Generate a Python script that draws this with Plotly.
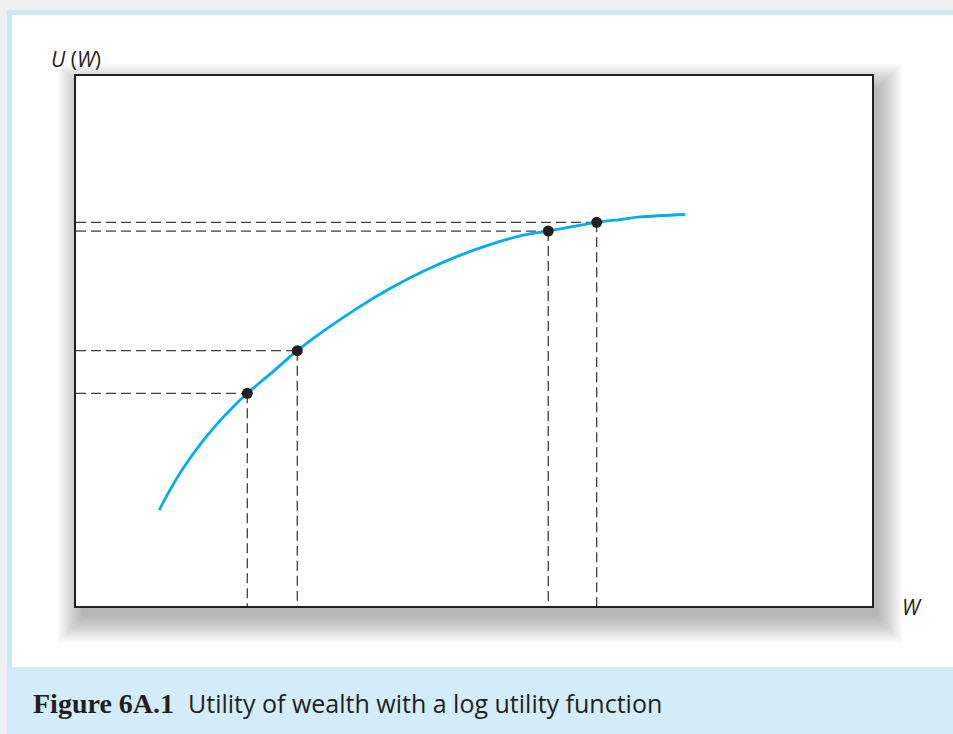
import plotly.graph_objects as go

# Utility curve U(W), read as (wealth, utility) pairs on a 0-100 scale
curve_w = [10.46, 11.81, 13.48, 15.58, 17.68, 19.76, 21.52, 24.79, 27.80, 31.07,
           35.26, 39.45, 43.63, 47.83, 52.01, 56.19, 59.33, 65.41, 68.34, 70.85, 76.51]
curve_u = [18.11, 21.92, 26.04, 30.45, 34.26, 37.60, 40.13, 44.28, 48.17, 51.85,
           56.11, 59.89, 63.15, 65.92, 68.19, 69.96, 70.75, 72.40, 72.92, 73.40, 73.87]

# Highlighted wealth levels and their utilities
point_w = [21.52, 27.80, 59.33, 65.41]
point_u = [40.13, 48.17, 70.75, 72.40]

y_label = "<i>U</i> (<i>W</i>)"
x_label = "<i>W</i>"
caption_num = "Figure 6A.1"
caption_text = "Utility of wealth with a log utility function"

W, H = 953, 734
BOX = (76, 76, 872, 606)  # left, top, right, bottom in pixels


def px(x):
    return x / W


def py(y):
    return 1 - y / H


fig = go.Figure()

# Dashed guide lines from each point to the axes
guide = dict(color="#3f3f3f", width=1.3, dash="10px,5px")
for w, u in zip(point_w, point_u):
    fig.add_trace(go.Scatter(x=[0, w], y=[u, u], mode="lines", line=guide,
                             hoverinfo="skip", showlegend=False))
    fig.add_trace(go.Scatter(x=[w, w], y=[u, 0], mode="lines", line=guide,
                             hoverinfo="skip", showlegend=False))

fig.add_trace(go.Scatter(x=curve_w, y=curve_u, mode="lines",
                         line=dict(color="#00aeef", width=2.8, shape="spline", smoothing=1.0),
                         hoverinfo="skip", showlegend=False))

fig.add_trace(go.Scatter(x=point_w, y=point_u, mode="markers",
                         marker=dict(color="#231f20", size=11),
                         hoverinfo="skip", showlegend=False))

shapes = []
# Page frame: light-blue border, white panel, caption band
shapes.append(dict(type="rect", xref="paper", yref="paper", layer="below",
                   x0=px(7), x1=1.01, y0=py(736), y1=py(10),
                   fillcolor="#c9e8f8", line=dict(width=0)))
shapes.append(dict(type="rect", xref="paper", yref="paper", layer="below",
                   x0=px(12), x1=1.01, y0=py(667), y1=py(15),
                   fillcolor="#ffffff", line=dict(width=0)))
shapes.append(dict(type="rect", xref="paper", yref="paper", layer="below",
                   x0=px(7), x1=1.01, y0=py(736), y1=py(667),
                   fillcolor="#d4ecf9", line=dict(width=0)))

# Soft drop shadow behind the plot box
l, t, r, b = BOX
dx, dy = 6, 12
for e in range(0, 26, 2):
    shapes.append(dict(type="rect", xref="paper", yref="paper", layer="below",
                       x0=px(l + dx - e), x1=px(r + dx + e),
                       y0=py(b + dy + e), y1=py(t + dy - e),
                       fillcolor="rgba(0,0,0,0.024)", line=dict(width=0)))
shapes.append(dict(type="rect", xref="paper", yref="paper", layer="below",
                   x0=px(l), x1=px(r), y0=py(b), y1=py(t),
                   fillcolor="#ffffff", line=dict(width=0)))

annotations = [
    dict(text=y_label, x=px(49), y=py(59), xref="paper", yref="paper",
         xanchor="left", yanchor="middle", showarrow=False,
         font=dict(family="Open Sans, sans-serif", size=21, color="#231f20")),
    dict(text=x_label, x=px(900), y=py(607), xref="paper", yref="paper",
         xanchor="left", yanchor="middle", showarrow=False,
         font=dict(family="Open Sans, sans-serif", size=21, color="#231f20")),
    dict(text="<b>" + caption_num + "</b>", x=px(31), y=py(703), xref="paper", yref="paper",
         xanchor="left", yanchor="middle", showarrow=False,
         font=dict(family="Liberation Serif, serif", size=28, color="#231f20")),
    dict(text=caption_text, x=px(186), y=py(703), xref="paper", yref="paper",
         xanchor="left", yanchor="middle", showarrow=False,
         font=dict(family="Open Sans, sans-serif", size=25, color="#231f20")),
]

axis_common = dict(range=[0, 100], showgrid=False, zeroline=False, showticklabels=False,
                   ticks="", showline=True, mirror=True, linecolor="#231f20", linewidth=1.5,
                   fixedrange=True)

fig.update_layout(
    width=W, height=H, autosize=False,
    margin=dict(l=0, r=0, t=0, b=0),
    paper_bgcolor="#eef0f2", plot_bgcolor="#ffffff",
    xaxis=dict(domain=[px(l), px(r)], **axis_common),
    yaxis=dict(domain=[py(b), py(t)], **axis_common),
    shapes=shapes, annotations=annotations, showlegend=False,
)

fig.write_html("out.html")
